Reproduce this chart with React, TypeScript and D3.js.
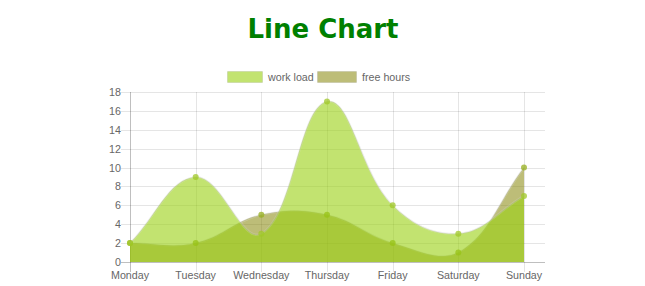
import React from "react";
import * as d3 from "d3";

const days = ["Monday", "Tuesday", "Wednesday", "Thursday", "Friday", "Saturday", "Sunday"];
const workLoad = [2, 9, 3, 17, 6, 3, 7];
const freeHours = [2, 2, 5, 5, 2, 1, 10];
const yTicks = [0, 2, 4, 6, 8, 10, 12, 14, 16, 18];

const W = 645, H = 286;
const left = 130, right = 545, lastX = 524, top = 92, bottom = 262;

const x = d3.scalePoint<string>().domain(days).range([left, lastX]);
const y = d3.scaleLinear().domain([0, 18]).range([bottom, top]);

type P = [number, number];

function spline(pts: P[], t = 0.4) {
  const p = d3.path();
  const cps: { prev: P; next: P }[] = pts.map((cur, i) => {
    const prev = i > 0 ? pts[i - 1] : cur;
    const next = i < pts.length - 1 ? pts[i + 1] : cur;
    const d01 = Math.hypot(cur[0] - prev[0], cur[1] - prev[1]);
    const d12 = Math.hypot(next[0] - cur[0], next[1] - cur[1]);
    const s01 = d01 / (d01 + d12 || 1);
    const s12 = d12 / (d01 + d12 || 1);
    const fa = t * s01, fb = t * s12;
    const clampY = (v: number) => Math.max(top, Math.min(bottom, v));
    return {
      prev: [cur[0] - fa * (next[0] - prev[0]), clampY(cur[1] - fa * (next[1] - prev[1]))],
      next: [cur[0] + fb * (next[0] - prev[0]), clampY(cur[1] + fb * (next[1] - prev[1]))],
    };
  });
  p.moveTo(pts[0][0], pts[0][1]);
  for (let i = 1; i < pts.length; i++) {
    const a = cps[i - 1].next, b = cps[i].prev;
    p.bezierCurveTo(a[0], a[1], b[0], b[1], pts[i][0], pts[i][1]);
  }
  return p.toString();
}

function Series({ data, fill, point }: { data: number[]; fill: string; point: string }) {
  const pts: P[] = data.map((v, i) => [x(days[i])!, y(v)]);
  const line = spline(pts);
  const area = line + `L${pts[pts.length - 1][0]},${y(0)}L${pts[0][0]},${y(0)}Z`;
  return (
    <g>
      <path d={area} fill={fill} />
      <path d={line} fill="none" stroke="rgba(255,255,255,0.25)" strokeWidth={2} />
      <path d={line} fill="none" stroke="rgba(0,0,0,0.08)" strokeWidth={1.5} />
      {pts.map((p, i) => (
        <circle key={i} cx={p[0]} cy={p[1]} r={3} fill={point} />
      ))}
    </g>
  );
}

export default function App() {
  const font = "'Liberation Sans', Arial, sans-serif";
  const fs = 10.7;
  return (
    <svg width={W} height={H} style={{ position: "absolute", left: 0, top: 0 }}>
      <rect width={W} height={H} fill="#fff" />
      <text x={323} y={38} textAnchor="middle" fontFamily="'DejaVu Sans', Verdana, sans-serif" fontWeight="bold" fontSize={26} fill="#008000">
        Line Chart
      </text>
      {/* legend */}
      <g fontFamily={font} fontSize={fs} fill="#666">
        <rect x={227.5} y={71.5} width={35} height={11} fill="rgba(154,208,17,0.6)" stroke="rgba(0,0,0,0.08)" />
        <text x={268} y={81}>work load</text>
        <rect x={317.5} y={71.5} width={39} height={11} fill="rgba(135,135,10,0.55)" stroke="rgba(0,0,0,0.08)" />
        <text x={362} y={81}>free hours</text>
      </g>
      {/* grid */}
      <g shapeRendering="crispEdges">
        {yTicks.map((t) => (
          <line key={t} x1={left - 9} x2={right} y1={Math.round(y(t)) + 0.5} y2={Math.round(y(t)) + 0.5}
            stroke={t === 0 ? "rgba(0,0,0,0.25)" : "rgba(0,0,0,0.1)"} />
        ))}
        {days.map((d, i) => (
          <line key={d} x1={Math.round(x(d)!) + 0.5} x2={Math.round(x(d)!) + 0.5} y1={top} y2={bottom + 10}
            stroke={i === 0 ? "rgba(0,0,0,0.25)" : "rgba(0,0,0,0.1)"} />
        ))}
      </g>
      <Series data={freeHours} fill="rgba(135,135,10,0.55)" point="rgba(150,175,30,0.75)" />
      <Series data={workLoad} fill="rgba(154,208,17,0.6)" point="rgba(160,200,40,0.75)" />
      <g fontFamily={font} fontSize={fs} fill="#666">
        {yTicks.map((t) => (
          <text key={t} x={left - 9} y={y(t) + 4} textAnchor="end">{t}</text>
        ))}
        {days.map((d) => (
          <text key={d} x={x(d)!} y={279} textAnchor="middle">{d}</text>
        ))}
      </g>
    </svg>
  );
}
